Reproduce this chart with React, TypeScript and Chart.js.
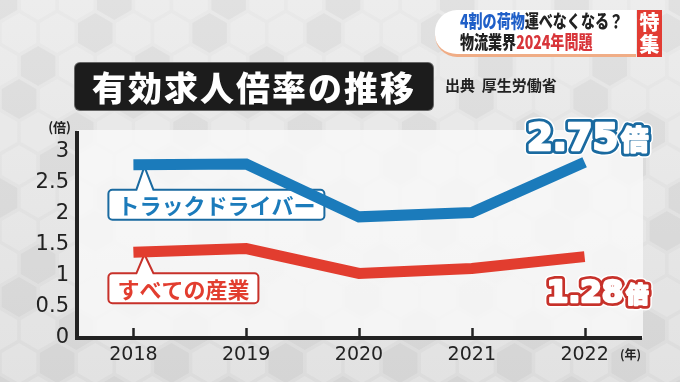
import React, { useEffect, useRef } from "react";
import { Chart, registerables } from "chart.js";

Chart.register(...registerables);

const years = ["2018", "2019", "2020", "2021", "2022"];
const truckDriver = [2.79, 2.8, 1.95, 2.02, 2.83];
const allIndustries = [1.38, 1.44, 1.04, 1.12, 1.31];
const yTickValues = [0, 0.5, 1, 1.5, 2, 2.5, 3];
const seriesNames = ["トラックドライバー", "すべての産業"];
const latestLabels = ["2.75", "1.28"];
const unitLabel = "倍";
const yUnit = "(倍)";
const xUnit = "(年)";
const titleText = "有効求人倍率の推移";
const sourceText = "出典  厚生労働省";

const BLUE = "#1b7bbb";
const RED = "#e23d2f";
const BLUE_DARK = "#1a6aa0";
const RED_DARK = "#c7312a";
const JP = "'Noto Sans CJK JP', 'Noto Sans', sans-serif";
const NUM = "'DejaVu Sans', 'Noto Sans', sans-serif";

function drawCallout(ctx: CanvasRenderingContext2D, ax: number, ay: number, text: string, border: string, color: string, dy: number) {
  ctx.save();
  ctx.font = `bold 22px ${JP}`;
  const tw = ctx.measureText(text).width;
  const left = ax - 25;
  const top = ay + dy;
  const w = tw + 18;
  const h = 30;
  const r = 4;
  const bl = ax + 3;
  const br = ax + 20;
  const apx = ax + 11;
  const apy = ay + 2;
  ctx.beginPath();
  ctx.moveTo(left + r, top);
  ctx.lineTo(bl, top);
  ctx.lineTo(apx, apy);
  ctx.lineTo(br, top);
  ctx.lineTo(left + w - r, top);
  ctx.arcTo(left + w, top, left + w, top + r, r);
  ctx.lineTo(left + w, top + h - r);
  ctx.arcTo(left + w, top + h, left + w - r, top + h, r);
  ctx.lineTo(left + r, top + h);
  ctx.arcTo(left, top + h, left, top + h - r, r);
  ctx.lineTo(left, top + r);
  ctx.arcTo(left, top, left + r, top, r);
  ctx.closePath();
  ctx.fillStyle = "#ffffff";
  ctx.fill();
  ctx.lineWidth = 2;
  ctx.strokeStyle = border;
  ctx.lineJoin = "miter";
  ctx.stroke();
  ctx.fillStyle = color;
  ctx.textBaseline = "middle";
  ctx.textAlign = "left";
  ctx.fillText(text, left + 9, top + h / 2 + 1);
  ctx.restore();
}

function drawBigLabel(ctx: CanvasRenderingContext2D, cx: number, baseline: number, num: string, size: number, color: string) {
  ctx.save();
  const numFont = `bold ${size}px ${NUM}`;
  const unitFont = `bold ${Math.round(size * 0.72)}px ${JP}`;
  ctx.font = numFont;
  const nw = ctx.measureText(num).width;
  ctx.font = unitFont;
  const uw = ctx.measureText(unitLabel).width;
  const total = nw + 3 + uw;
  const x0 = cx - total / 2;
  ctx.textBaseline = "alphabetic";
  ctx.textAlign = "left";
  ctx.lineJoin = "round";
  const parts: [string, string, number][] = [
    [num, numFont, x0],
    [unitLabel, unitFont, x0 + nw + 3],
  ];
  for (const [t, f, x] of parts) {
    ctx.font = f;
    ctx.strokeStyle = "#ffffff";
    ctx.lineWidth = 11;
    ctx.strokeText(t, x, baseline);
    ctx.strokeStyle = color;
    ctx.lineWidth = 8;
    ctx.strokeText(t, x, baseline);
    ctx.strokeStyle = "#ffffff";
    ctx.lineWidth = 2.5;
    ctx.strokeText(t, x, baseline);
    ctx.fillStyle = "#ffffff";
    ctx.fillText(t, x, baseline);
  }
  ctx.restore();
}

const decorPlugin = {
  id: "decor",
  beforeDraw(chart: any) {
    const { ctx, width, height, chartArea } = chart;
    ctx.save();
    const g = ctx.createLinearGradient(0, 0, 0, height);
    g.addColorStop(0, "#e9e9e9");
    g.addColorStop(1, "#dcdcdc");
    ctx.fillStyle = g;
    ctx.fillRect(0, 0, width, height);
    const s = 22;
    const hw = Math.sqrt(3) * s;
    for (let row = -1; row * s * 1.5 < height + s; row++) {
      for (let col = -1; col * hw < width + hw; col++) {
        const cx = col * hw + (row % 2 ? hw / 2 : 0);
        const cy = row * s * 1.5;
        ctx.beginPath();
        for (let k = 0; k < 6; k++) {
          const a = (Math.PI / 3) * k + Math.PI / 6;
          const px = cx + (s - 2) * Math.cos(a);
          const py = cy + (s - 2) * Math.sin(a);
          if (k === 0) ctx.moveTo(px, py);
          else ctx.lineTo(px, py);
        }
        ctx.closePath();
        ctx.fillStyle = (row + col) % 3 === 0 ? "rgba(0,0,0,0.03)" : "rgba(255,255,255,0.18)";
        ctx.fill();
      }
    }
    ctx.fillStyle = "rgba(248,248,248,0.85)";
    ctx.fillRect(chartArea.left, chartArea.top - 3, chartArea.right - chartArea.left + 2, chartArea.bottom - chartArea.top + 3);
    ctx.restore();
  },
  beforeDatasetsDraw(chart: any) {
    const { ctx } = chart;
    const m0 = chart.getDatasetMeta(0).data[0];
    const m1 = chart.getDatasetMeta(1).data[0];
    drawCallout(ctx, m0.x, m0.y, seriesNames[0], BLUE_DARK, BLUE, 25);
    drawCallout(ctx, m1.x, m1.y, seriesNames[1], RED_DARK, RED, 21);
  },
  afterDatasetsDraw(chart: any) {
    const { ctx, chartArea } = chart;
    const d0 = chart.getDatasetMeta(0).data;
    const d1 = chart.getDatasetMeta(1).data;
    const l0 = d0[d0.length - 1];
    const l1 = d1[d1.length - 1];
    drawBigLabel(ctx, l0.x + 3, l0.y - 12, latestLabels[0], 37, BLUE_DARK);
    drawBigLabel(ctx, l1.x + 13, l1.y + 45, latestLabels[1], 31, RED_DARK);
    const xs = chart.scales.x;
    ctx.save();
    ctx.strokeStyle = "#222";
    ctx.lineWidth = 2.5;
    for (let i = 0; i < xs.ticks.length; i++) {
      const x = Math.round(xs.getPixelForTick(i)) + 0.5;
      ctx.beginPath();
      ctx.moveTo(x, chartArea.bottom);
      ctx.lineTo(x, chartArea.bottom - 10);
      ctx.stroke();
    }
    ctx.fillStyle = "#222";
    ctx.font = `bold 13px ${JP}`;
    ctx.textAlign = "right";
    ctx.textBaseline = "middle";
    ctx.fillText(yUnit, chartArea.left - 6, chartArea.top - 6);
    ctx.font = `bold 12px ${JP}`;
    ctx.fillText(xUnit, chartArea.right, chartArea.bottom + 16);
    ctx.restore();
  },
};

export default function App() {
  const ref = useRef<HTMLCanvasElement | null>(null);
  useEffect(() => {
    document.body.style.margin = "0";
    const canvas = ref.current!;
    const chart = new Chart(canvas, {
      type: "line",
      data: {
        labels: years,
        datasets: [
          {
            label: seriesNames[0],
            data: truckDriver,
            borderColor: BLUE,
            borderWidth: 11,
            pointRadius: 0,
            tension: 0,
            borderCapStyle: "butt",
            borderJoinStyle: "miter",
            fill: false,
          },
          {
            label: seriesNames[1],
            data: allIndustries,
            borderColor: RED,
            borderWidth: 11,
            pointRadius: 0,
            tension: 0,
            borderCapStyle: "butt",
            borderJoinStyle: "miter",
            fill: false,
          },
        ],
      },
      options: {
        responsive: false,
        animation: false,
        devicePixelRatio: 1,
        layout: { padding: { top: 133, right: 39, left: 0, bottom: 0 } },
        plugins: { legend: { display: false }, tooltip: { enabled: false } },
        scales: {
          x: {
            type: "category",
            offset: true,
            grid: { display: false, drawTicks: false },
            border: { display: true, color: "#222", width: 4 },
            ticks: {
              color: "#222",
              font: { family: NUM, size: 19, weight: "normal" },
              padding: 6,
              maxRotation: 0,
            },
            afterFit: (s: any) => {
              s.height = 44;
            },
          },
          y: {
            min: 0,
            max: 3.3,
            grid: { display: false, drawTicks: false },
            border: { display: true, color: "#222", width: 4 },
            afterBuildTicks: (s: any) => {
              s.ticks = yTickValues.map((v) => ({ value: v }));
            },
            ticks: {
              color: "#222",
              font: { family: NUM, size: 21, weight: "normal" },
              padding: 8,
              callback: (v: any) => String(v),
            },
            afterFit: (s: any) => {
              s.width = 77;
            },
          },
        },
      },
      plugins: [decorPlugin],
    });
    return () => chart.destroy();
  }, []);

  return (
    <div style={{ position: "fixed", left: 0, top: 0, width: 680, height: 382, overflow: "hidden" }}>
      <canvas ref={ref} width={680} height={382} style={{ position: "absolute", left: 0, top: 0 }} />
      <div
        style={{
          position: "absolute",
          left: 75,
          top: 63,
          width: 358,
          height: 47,
          background: "#1c1c1c",
          borderRadius: 5,
          color: "#fff",
          fontFamily: JP,
          fontWeight: 900,
          fontSize: 34,
          letterSpacing: 2,
          lineHeight: "47px",
          textAlign: "center",
          boxShadow: "0 0 0 1px #666",
        }}
      >
        {titleText}
      </div>
      <div
        style={{
          position: "absolute",
          left: 445,
          top: 74,
          fontFamily: JP,
          fontWeight: 700,
          fontSize: 15,
          color: "#222",
          whiteSpace: "pre",
          lineHeight: "22px",
        }}
      >
        {sourceText}
      </div>
      <div
        style={{
          position: "absolute",
          left: 435,
          top: 10,
          width: 201,
          height: 44,
          background: "#fff",
          borderRadius: "22px 0 0 22px",
          borderBottom: "3px solid #f0ad86",
        }}
      />
      <div
        style={{
          position: "absolute",
          left: 460,
          top: 10,
          fontFamily: JP,
          fontWeight: 900,
          fontSize: 18,
          lineHeight: "21px",
          whiteSpace: "nowrap",
          color: "#222",
          transform: "scaleX(0.78)",
          transformOrigin: "left top",
        }}
      >
        <div>
          <span style={{ color: "#1f5fc8" }}>4割の荷物</span>運べなくなる？
        </div>
        <div>
          物流業界<span style={{ color: "#d8353a" }}>2024年問題</span>
        </div>
      </div>
      <div
        style={{
          position: "absolute",
          left: 637,
          top: 10,
          width: 25,
          height: 47,
          background: "#e23c33",
          color: "#fff",
          fontFamily: JP,
          fontWeight: 900,
          fontSize: 20,
          lineHeight: "22px",
          textAlign: "center",
          paddingTop: 1,
          boxSizing: "border-box",
        }}
      >
        <div>特</div>
        <div>集</div>
      </div>
    </div>
  );
}
